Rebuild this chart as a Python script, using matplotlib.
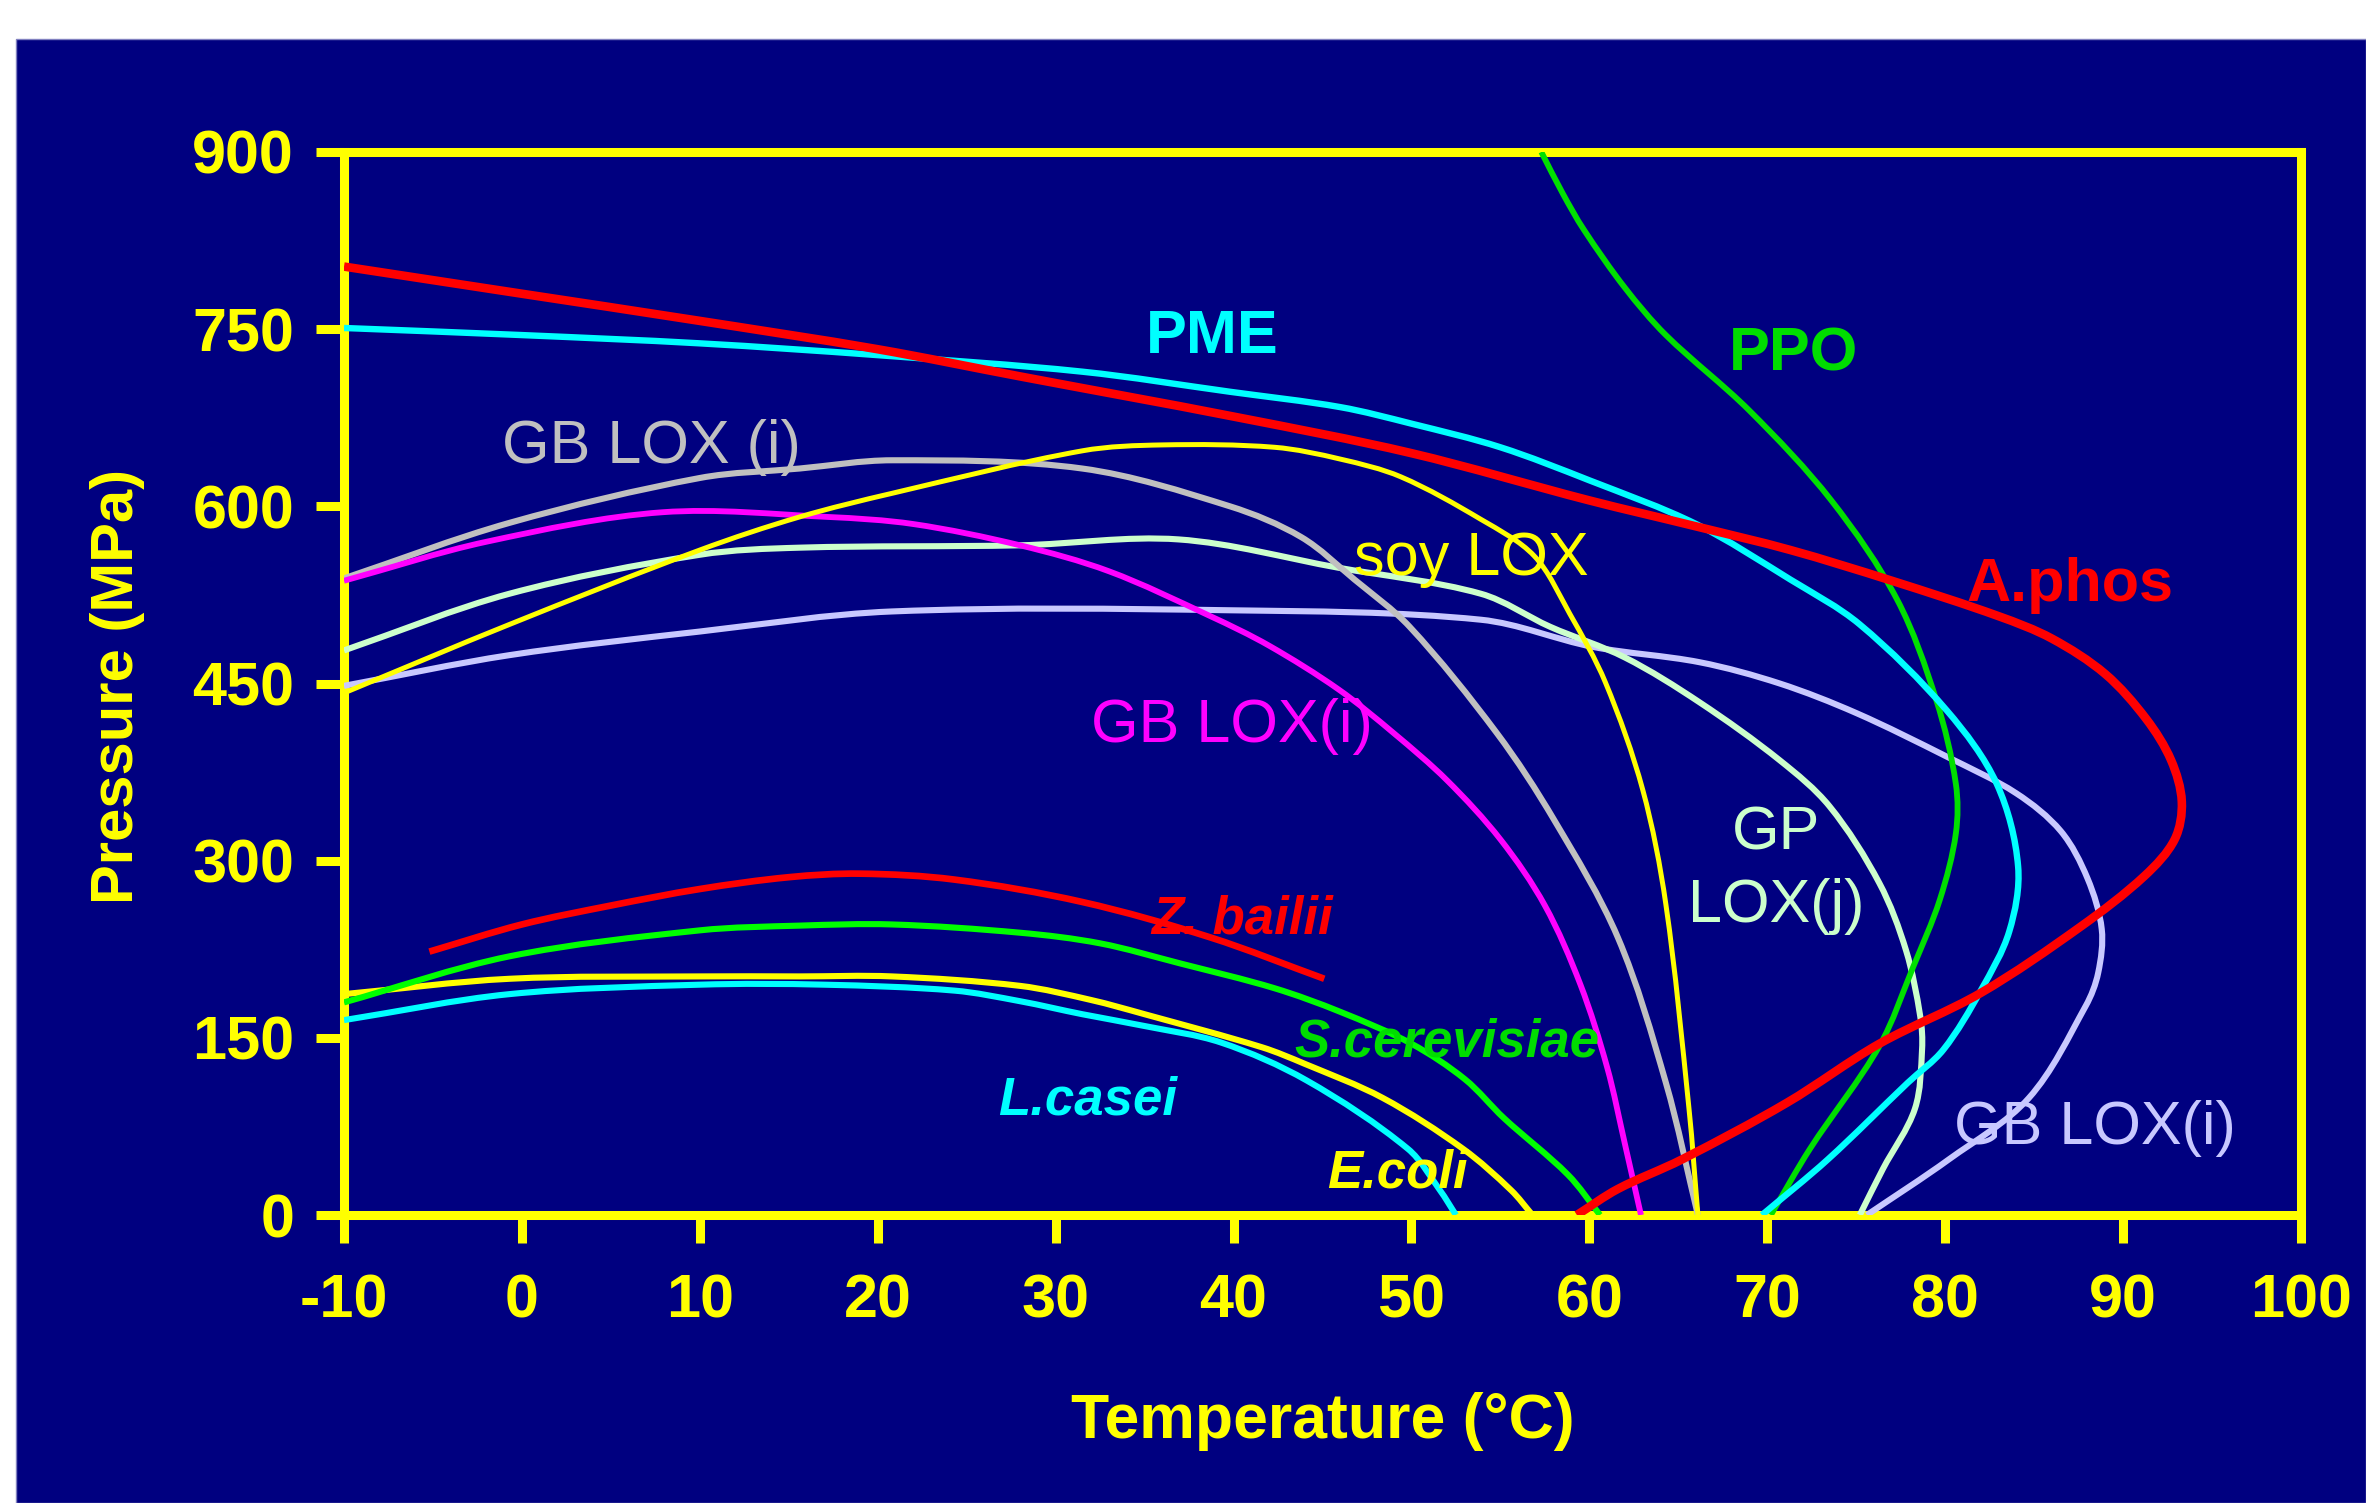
import matplotlib
matplotlib.use("Agg")
import numpy as np
import matplotlib.pyplot as plt
from matplotlib.patches import Rectangle, PathPatch
from matplotlib.path import Path

plt.rcParams['font.family'] = ['Liberation Sans', 'DejaVu Sans']

# ---------------- data (temperature °C, pressure MPa) ----------------
aphos_T = [-10, 0, 10, 20, 28, 40, 50, 60, 66, 71.3, 77, 83, 86, 89, 91.3, 92.7, 93.3, 92.9, 91.2, 87.6, 82, 76.3, 71.1, 65.2, 61.6, 59.3]
aphos_P = [803, 780, 757, 733, 710, 676, 645, 605, 583, 563, 537, 507, 488, 458, 420, 385, 350, 318, 287, 244, 188, 145, 95, 47, 22, 0]

pme_T = [-10, 0, 10, 20, 31.5, 39.8, 46, 50, 55, 60, 66, 71.3, 75.2, 80.1, 82.9, 84.1, 83.6, 82, 79.9, 77.9, 73.4, 69.7]
pme_P = [751, 745, 738, 728, 714, 697, 684, 670, 650, 622, 585, 538, 500, 427, 365, 295, 240, 190, 140, 112, 47, 0]

ppo_T = [57.3, 58.5, 59.7, 62, 64.3, 69, 73.6, 77.3, 79.5, 80.6, 80.6, 79.7, 78.2, 76.3, 72.4, 70.2]
ppo_P = [900, 865, 834, 785, 745, 681, 605, 521, 436, 365, 323, 267, 210, 143, 56, 0]

gblox_gray_T = [-10, -0.7, 10, 15.6, 20.8, 31.5, 39.8, 43.8, 46.8, 49.9, 54.8, 58, 61.6, 64.3, 66.1]
gblox_gray_P = [539, 586, 624, 632, 639, 632, 600, 574, 538, 498, 408, 335, 235, 112, 0]

gblox_mag_T = [-10, -2, 7.9, 17.2, 22, 28, 33, 38.7, 42, 45.9, 49, 52, 55, 57.5, 59.5, 61, 62, 62.9]
gblox_mag_P = [537, 570, 595, 591, 585, 567, 545, 507, 482, 445, 408, 368, 318, 262, 195, 125, 60, 0]

soylox_T = [-10, -0.7, 10, 15.6, 20.8, 31.5, 36, 42.3, 46, 49.4, 53.9, 56.9, 58.9, 60.9, 63, 64.3, 65.6, 66.1]
soylox_P = [442, 500, 563, 591, 611, 647, 652, 650, 640, 625, 589, 558, 509, 451, 360, 263, 90, 0]

gplox_T = [-10, -0.7, 10, 15.6, 28, 36.9, 45.9, 53.9, 57.8, 62, 66.2, 70.7, 73.5, 76.3, 77.8, 78.6, 78.7, 78.3, 76.5, 75.2]
gplox_P = [478, 526, 559, 565, 567, 572, 548, 526, 498, 472, 434, 385, 346, 281, 224, 168, 140, 90, 39, 0]

gblox_lav_T = [-10, -0.7, 10, 20.8, 39.8, 53.9, 60.2, 66.2, 70.7, 75, 80.1, 84, 86.5, 88, 88.8, 88.6, 87.9, 84.7, 80.2, 75.6]
gblox_lav_P = [448, 474, 494, 511, 512, 504, 481, 468, 450, 425, 388, 357, 325, 285, 242, 205, 177, 99, 47, 0]

zbailii_T = [-5.2, 0, 5, 10, 15, 19, 24.3, 31.5, 38.7, 45.1]
zbailii_P = [223, 246, 262, 276, 286, 289, 284, 265, 235, 200]

scerev_T = [-10, -0.7, 10, 15.6, 20.8, 28, 32.5, 37, 42.3, 46, 50, 53, 55.2, 58.8, 60.6]
scerev_P = [180, 219, 241, 245, 246, 239, 230, 213, 192, 172, 145, 115, 82, 34, 0]

ecoli_T = [-10, -0.7, 10, 15.6, 20.8, 28, 32, 35, 41.6, 44, 48.4, 52.9, 55.6, 56.8]
ecoli_P = [187, 200, 202, 202, 202, 194, 182, 170, 142, 128, 99, 56, 21, 0]

lcasei_T = [-10, -0.7, 10, 17, 24.3, 28, 31.5, 35, 39.3, 44.1, 49.8, 51.6, 52.5]
lcasei_P = [165, 187, 195, 195, 190, 181, 170, 160, 146, 114, 56, 21, 0]

x_ticks = [-10, 0, 10, 20, 30, 40, 50, 60, 70, 80, 90, 100]
y_ticks = [0, 150, 300, 450, 600, 750, 900]

# ---------------- styling ----------------
NAVY = '#000080'
YEL = '#FFFF00'

W, H = 2366, 1503
fig = plt.figure(figsize=(W / 100, H / 100), dpi=100, facecolor='white')

bg = fig.add_axes([0, 0, 1, 1], zorder=-5)
bg.set_axis_off()
bg.add_patch(Rectangle((16 / W, 0), 1 - 16 / W, 1 - 39 / H,
                       transform=bg.transAxes, facecolor=NAVY,
                       edgecolor='#8080C0', linewidth=1))

ax = fig.add_axes([344 / W, 1 - 1215 / H, (2301 - 344) / W, (1215 - 152) / H], zorder=1)
ax.set_facecolor(NAVY)
ax.set_xlim(-10, 100)
ax.set_ylim(0, 900)


def smooth_path(xs, ys):
    """Smoothed line through the data points (chord-length Catmull-Rom as cubic Bezier)."""
    P = np.column_stack([xs, ys]).astype(float)
    D = ax.transData.transform(P)
    n = len(P)
    d = np.hypot(*np.diff(D, axis=0).T)
    T = np.zeros_like(P)
    T[0] = (P[1] - P[0]) / d[0]
    T[-1] = (P[-1] - P[-2]) / d[-1]
    for i in range(1, n - 1):
        T[i] = (P[i + 1] - P[i - 1]) / (d[i - 1] + d[i])
    verts = [tuple(P[0])]
    codes = [Path.MOVETO]
    for i in range(n - 1):
        c1 = P[i] + T[i] * d[i] / 3.0
        c2 = P[i + 1] - T[i + 1] * d[i] / 3.0
        verts += [tuple(c1), tuple(c2), tuple(P[i + 1])]
        codes += [Path.CURVE4] * 3
    return Path(verts, codes)


series = [
    (gblox_lav_T, gblox_lav_P, '#C8C8FF', 4.4),
    (gplox_T, gplox_P, '#CCFFCC', 4.4),
    (gblox_gray_T, gblox_gray_P, '#C0C0C0', 4.4),
    (gblox_mag_T, gblox_mag_P, '#FF00FF', 4.2),
    (soylox_T, soylox_P, '#FFFF00', 3.6),
    (lcasei_T, lcasei_P, '#00FFFF', 4.4),
    (ecoli_T, ecoli_P, '#FFFF00', 4.4),
    (scerev_T, scerev_P, '#00FF00', 4.4),
    (zbailii_T, zbailii_P, '#FF0000', 4.8),
    (ppo_T, ppo_P, '#00E000', 4.2),
    (pme_T, pme_P, '#00FFFF', 4.6),
    (aphos_T, aphos_P, '#FF0000', 6.2),
]
for xs, ys, c, lw in series:
    ax.add_patch(PathPatch(smooth_path(xs, ys), facecolor='none', edgecolor=c,
                           lw=lw, capstyle='butt', joinstyle='round', zorder=3))

ax.set_xticks(x_ticks)
ax.set_yticks(y_ticks)
ax.set_xticklabels([str(v) for v in x_ticks])
ax.set_yticklabels([str(v) for v in y_ticks])

for s in ax.spines.values():
    s.set_color(YEL)
    s.set_linewidth(6.5)
    s.set_zorder(2)
ax.tick_params(axis='both', colors=YEL, direction='out', length=20, width=6.5,
               labelsize=44)
ax.tick_params(axis='x', pad=22)
ax.tick_params(axis='y', pad=16)
for lab in ax.get_xticklabels() + ax.get_yticklabels():
    lab.set_fontweight('bold')
    lab.set_color(YEL)

ax.set_xlabel('Temperature (°C)', color=YEL, fontsize=45, fontweight='bold', va='center')
ax.xaxis.set_label_coords(0.5, -0.194)
ax.set_ylabel('Pressure (MPa)', color=YEL, fontsize=43, fontweight='bold', va='center', ha='center')
ax.yaxis.set_label_coords(-0.1155, 0.497)

# ---------------- curve labels ----------------
def lab(x, y, s, c, size=44, weight='normal', style='normal', **kw):
    ax.text(x, y, s, color=c, fontsize=size, fontweight=weight, fontstyle=style,
            ha='center', va='center', zorder=4, **kw)

lab(38.8, 743, 'PME', '#00FFFF', weight='bold')
lab(71.45, 728, 'PPO', '#00DD00', weight='bold')
lab(87.0, 533, 'A.phos', '#FF0000', weight='bold')
lab(7.26, 650, 'GB LOX (i)', '#C0C0C0')
lab(53.35, 555, 'soy LOX', '#FFFF00')
lab(39.9, 414, 'GB LOX(i)', '#FF00FF')
lab(70.5, 292, 'GP\nLOX(j)', '#CCFFCC', linespacing=1.35, multialignment='center')
lab(40.5, 250, 'Z. bailii', '#FF0000', size=38, weight='bold', style='italic')
lab(52.0, 146, 'S.cerevisiae', '#00DD00', size=38, weight='bold', style='italic')
lab(31.8, 97, 'L.casei', '#00FFFF', size=38, weight='bold', style='italic')
lab(49.2, 35, 'E.coli', '#FFFF00', size=38, weight='bold', style='italic')
lab(88.4, 73, 'GB LOX(i)', '#C8C8FF')

fig.savefig('out.png', dpi=100, facecolor='white')
